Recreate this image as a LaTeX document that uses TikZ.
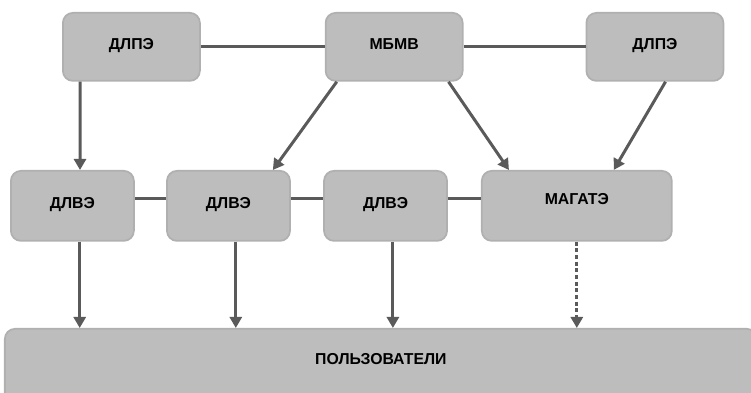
\documentclass[tikz,border=0pt]{standalone}
\usepackage{fontspec}
\setmainfont{Liberation Sans}
\usepackage{tikz}
\usetikzlibrary{arrows.meta,positioning}
\definecolor{boxfill}{HTML}{BDBDBD}
\definecolor{boxline}{HTML}{B0B0B0}
\definecolor{linkgray}{HTML}{5A5A5A}
\tikzset{
    %Define standard arrow tip
    >={Triangle[length=0.33cm,width=0.36cm]},
    %Define style for boxes
    agency/.style={
           rectangle,
           rounded corners=0.3cm,
           draw=boxline, line width=1.5pt,
           fill=boxfill,
           minimum width=4.11cm,
           minimum height=2.04cm,
           text depth=0.18cm,
           font=\fontsize{13.5}{16}\selectfont\bfseries,
           text centered},
    centre/.style={
           agency,
           minimum width=3.69cm,
           minimum height=2.1cm},
    users/.style={
           agency,
           minimum width=22.56cm,
           minimum height=2.46cm,
           text depth=0.66cm},
    % Define link styles
    link/.style={
           -,
           draw=linkgray,
           line width=0.09cm},
    pil/.style={
           link,
           ->},
    dpil/.style={
           pil,
           dash pattern=on 0.12cm off 0.08cm}
}
\begin{document}
\begin{tikzpicture}[node distance=0.94cm]
\useasboundingbox (0,0) rectangle (22.53,11.79);

 %nodes
\node[agency, anchor=north west] (dlpe1) at (1.86,11.43) {ДЛПЭ};
\node[agency, right=3.72cm of dlpe1] (mbmv) {МБМВ};
\node[agency, right=3.66cm of mbmv] (dlpe2) {ДЛПЭ};

\node[centre, anchor=north west] (dlve1) at (0.3,6.69) {ДЛВЭ};
\node[centre, right=of dlve1] (dlve2) {ДЛВЭ};
\node[centre, right=0.97cm of dlve2] (dlve3) {ДЛВЭ};
\node[centre, minimum width=5.7cm, text depth=0.4cm, right=0.99cm of dlve3] (magate) {МАГАТЭ};

\node[users, anchor=north west] (users) at (0.12,1.95) {ПОЛЬЗОВАТЕЛИ};

 %links
\draw[link] (dlpe1) -- (mbmv);
\draw[link] (mbmv) -- (dlpe2);
\draw[link] ([yshift=0.21cm]dlve1.east) -- ([yshift=0.21cm]dlve2.west);
\draw[link] ([yshift=0.21cm]dlve2.east) -- ([yshift=0.21cm]dlve3.west);
\draw[link] ([yshift=0.21cm]dlve3.east) -- ([yshift=0.21cm]magate.west);

\draw[pil] ([xshift=0.54cm]dlpe1.south west) -- ([xshift=2.1cm]dlve1.north west);
\draw[pil] ([xshift=0.36cm]mbmv.south west) -- ([xshift=-0.54cm]dlve2.north east);
\draw[pil] ([xshift=-0.45cm]mbmv.south east) -- ([xshift=0.84cm]magate.north west);
\draw[pil] ([xshift=2.4cm]dlpe2.south west) -- ([xshift=-1.77cm]magate.north east);

\foreach \n in {dlve1,dlve2,dlve3}{
  \coordinate (\n-out) at ([xshift=0.22cm]\n.south);
  \draw[pil] (\n-out) -- (\n-out |- users.north);
}
\draw[dpil] (magate.south) -- (magate.south |- users.north);
\end{tikzpicture}
\end{document}
